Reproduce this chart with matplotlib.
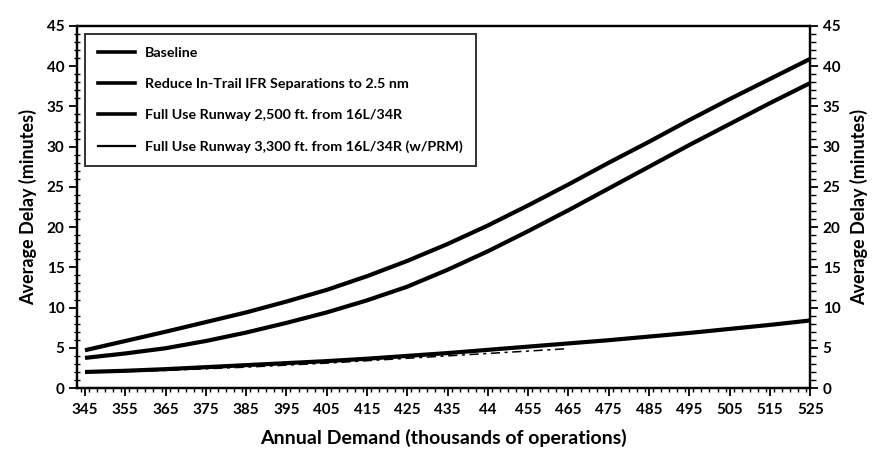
import matplotlib
matplotlib.use("Agg")
import matplotlib.pyplot as plt
from matplotlib.ticker import MultipleLocator, FixedLocator, FixedFormatter
from matplotlib.lines import Line2D

# ---- data ----
demand = [345, 355, 365, 375, 385, 395, 405, 415, 425, 435, 445,
          455, 465, 475, 485, 495, 505, 515, 525]
baseline = [4.7, 5.85, 7.0, 8.2, 9.4, 10.75, 12.2, 13.9, 15.8, 17.9, 20.2,
            22.7, 25.3, 28.0, 30.6, 33.3, 35.9, 38.4, 40.9]
reduce_ifr = [3.75, 4.3, 4.95, 5.85, 6.9, 8.1, 9.4, 10.9, 12.6, 14.7, 17.0,
              19.5, 22.1, 24.8, 27.5, 30.2, 32.8, 35.4, 37.9]
runway_2500 = [2.0, 2.15, 2.35, 2.6, 2.85, 3.1, 3.35, 3.65, 4.0, 4.35, 4.75,
               5.15, 5.55, 5.95, 6.4, 6.85, 7.35, 7.85, 8.4]
demand_prm = [345, 355, 365, 375, 385, 395, 405, 415, 425, 435, 445, 455, 465]
runway_3300 = [1.95, 2.05, 2.2, 2.4, 2.6, 2.85, 3.1, 3.4, 3.7, 4.0, 4.3, 4.6, 4.9]

series_labels = ["Baseline",
                 "Reduce In-Trail IFR Separations to 2.5 nm",
                 "Full Use Runway 2,500 ft. from 16L/34R",
                 "Full Use Runway 3,300 ft. from 16L/34R (w/PRM)"]
x_ticks = [345, 355, 365, 375, 385, 395, 405, 415, 425, 435, 445,
           455, 465, 475, 485, 495, 505, 515, 525]
x_ticklabels = ["345", "355", "365", "375", "385", "395", "405", "415", "425",
                "435", "44", "455", "465", "475", "485", "495", "505", "515", "525"]
y_ticks = [0, 5, 10, 15, 20, 25, 30, 35, 40, 45]

plt.rcParams['font.family'] = ['Lato', 'DejaVu Sans']
plt.rcParams['font.weight'] = 'bold'

fig = plt.figure(figsize=(8.74, 4.62), dpi=100)
ax = fig.add_axes([0.088, 0.160, 0.839, 0.784])

lw = 3.0
ax.plot(demand, baseline, color='black', lw=lw, solid_capstyle='butt')
ax.plot(demand, reduce_ifr, color='black', lw=lw, solid_capstyle='butt')
ax.plot(demand, runway_2500, color='black', lw=lw, solid_capstyle='butt')
ax.plot(demand_prm, runway_3300, color='black', lw=1.1, dashes=(6, 3, 2, 3))

ax.set_xlim(343, 525)
ax.set_ylim(0, 45)

ax.xaxis.set_major_locator(FixedLocator(x_ticks))
ax.xaxis.set_major_formatter(FixedFormatter(x_ticklabels))
ax.xaxis.set_minor_locator(MultipleLocator(2))
ax.yaxis.set_major_locator(FixedLocator(y_ticks))
ax.yaxis.set_minor_locator(MultipleLocator(1))

for s in ax.spines.values():
    s.set_linewidth(1.6)

ax.tick_params(axis='x', which='major', direction='out', length=6, width=1.3,
               labelsize=11, pad=5)
ax.tick_params(axis='x', which='minor', direction='out', length=3, width=1.0)
ax.tick_params(axis='y', which='major', direction='out', length=6, width=1.3,
               labelsize=11, pad=3)
ax.tick_params(axis='y', which='minor', direction='inout', length=5, width=1.0)

ax.set_xlabel("Annual Demand (thousands of operations)", fontsize=14,
              fontweight='bold', labelpad=8)
ax.set_ylabel("Average Delay (minutes)", fontsize=13, fontweight='bold', labelpad=7)

ax2 = ax.twinx()
ax2.set_ylim(0, 45)
ax2.yaxis.set_major_locator(FixedLocator(y_ticks))
ax2.yaxis.set_minor_locator(MultipleLocator(1))
ax2.tick_params(axis='y', which='major', direction='out', length=6, width=1.3,
                labelsize=11, pad=3)
ax2.tick_params(axis='y', which='minor', direction='out', length=4, width=1.0)
for s in ax2.spines.values():
    s.set_linewidth(1.6)
ax2.set_ylabel("Average Delay (minutes)", fontsize=13, fontweight='bold',
               labelpad=7, rotation=90)

handles = [Line2D([], [], color='black', lw=2.6),
           Line2D([], [], color='black', lw=2.6),
           Line2D([], [], color='black', lw=2.6),
           Line2D([], [], color='black', lw=1.6)]
leg = ax.legend(handles, series_labels, loc='upper left',
                bbox_to_anchor=(0.011, 0.978), fontsize=10.3,
                labelspacing=1.35, handlelength=2.6, handletextpad=0.7,
                borderpad=0.9, frameon=True, fancybox=False, borderaxespad=0)
leg.get_frame().set_edgecolor('black')
leg.get_frame().set_linewidth(1.4)
for t in leg.get_texts():
    t.set_fontweight('bold')

fig.savefig("out.png", dpi=100)
